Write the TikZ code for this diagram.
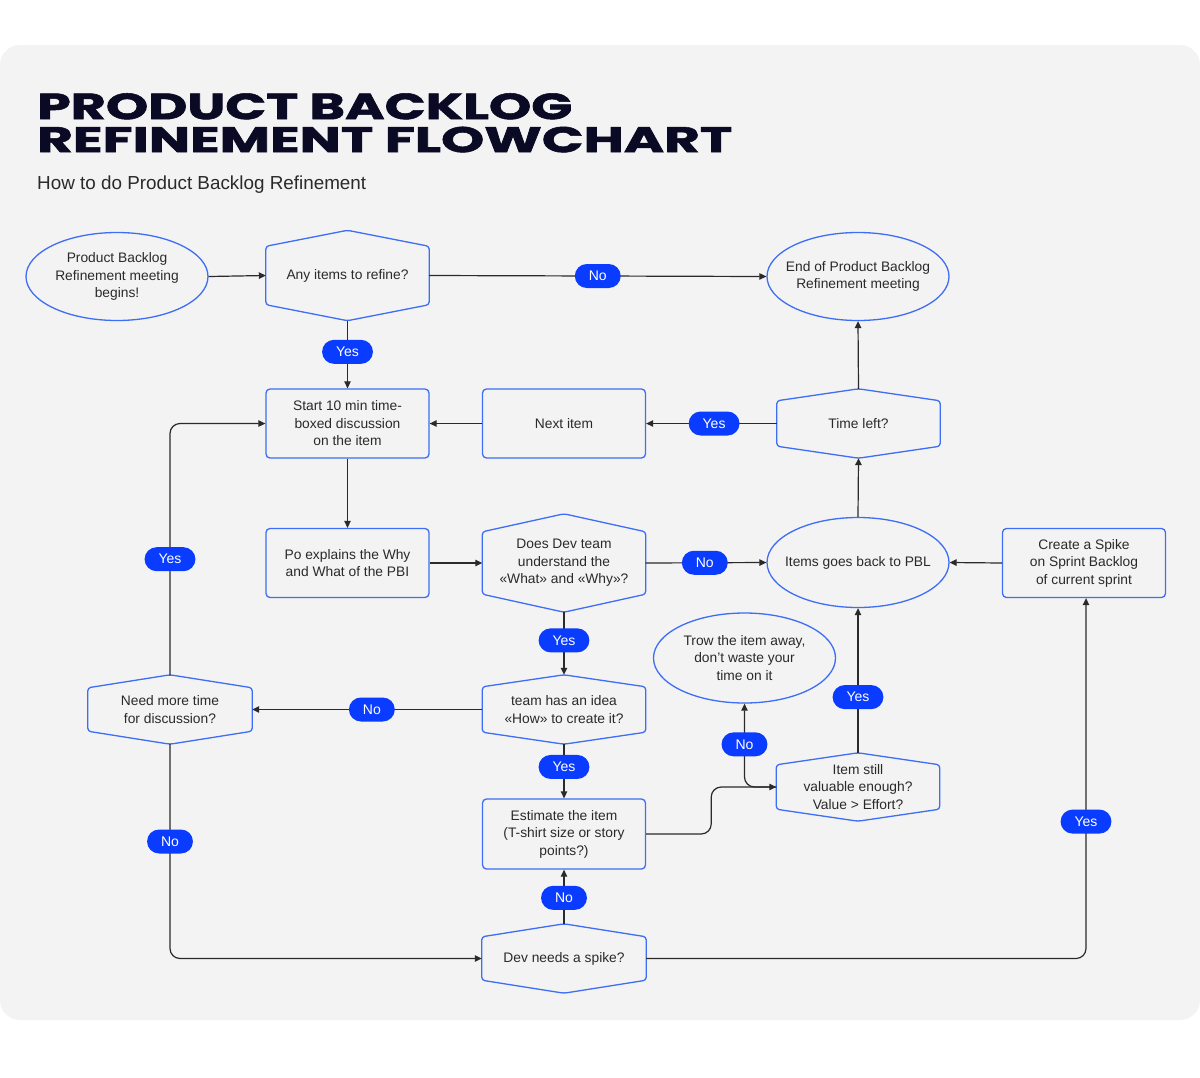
\documentclass[tikz,border=0pt]{standalone}
\usepackage{fontspec}
\usepackage{graphicx}
\setmainfont{Liberation Sans}
\newfontfamily\titlefont{Poppins}[BoldFeatures={FakeBold=1.5}]
\usetikzlibrary{shapes.geometric,arrows.meta,calc}
\definecolor{bg}{HTML}{F3F3F3}
\definecolor{nodeblue}{HTML}{3D6EF5}
\definecolor{pillblue}{HTML}{0A3CFF}
\definecolor{linec}{HTML}{2A2A2A}
\definecolor{txt}{HTML}{2A2A2A}
\definecolor{titlec}{HTML}{0B0A24}
\newcommand\hexnode[6]{%
  \node[hexbase,minimum width=#3,minimum height=#4] (#1) at #2 {#6};
  \draw[nodeline,rounded corners=3pt] (#1.north) -- ($(#1.north east)+(0,#5)$) -- ($(#1.south east)-(0,#5)$) -- (#1.south) -- ($(#1.south west)-(0,#5)$) -- ($(#1.north west)+(0,#5)$) -- cycle;}
\tikzset{
  ntext/.style={text=txt,align=center,font=\fontsize{13.8}{17.5}\selectfont},
  nodeline/.style={draw=nodeblue,line width=1.3pt},
  hexbase/.style={ntext,shape=rectangle,draw=none,inner sep=0pt},
  box/.style={ntext,nodeline,rectangle,rounded corners=4pt,minimum width=163pt,minimum height=69pt,inner sep=0pt},
  ell/.style={ntext,nodeline,ellipse,inner xsep=-14pt,inner ysep=0pt,minimum width=182pt,minimum height=88pt},
  pill/.style={rectangle,rounded corners=12pt,fill=pillblue,text=white,minimum height=24pt,inner xsep=14pt,inner ysep=0pt,font=\fontsize{14}{16}\selectfont,sloped=false},
  arr/.style={draw=linec,line width=1.2pt,-{Triangle[length=7pt,width=6.5pt]},rounded corners=10pt}
}
\begin{document}
\begin{tikzpicture}[x=1pt,y=-1pt]
\useasboundingbox (0,0) rectangle (1200,1077);
\fill[white] (0,0) rectangle (1200,1077);
\fill[bg,rounded corners=20pt] (0,45) rectangle (1200,1020);
% titles
\node[anchor=north west,inner sep=0pt,text=titlec] (t1) at (37,93) {\resizebox{535pt}{26pt}{\titlefont\bfseries PRODUCT BACKLOG}};
\node[anchor=north west,inner sep=0pt,text=titlec] (t2) at (37,126.5) {\resizebox{695pt}{25.5pt}{\titlefont\bfseries REFINEMENT FLOWCHART}};
\node[anchor=north west,inner sep=0pt,text=txt] (sub) at (37,176) {\resizebox{329pt}{!}{\fontsize{18}{20}\selectfont How to do Product Backlog Refinement}};
% nodes
\node[ell] (begin) at (117,276.5) {Product Backlog\\Refinement meeting\\begins!};
\hexnode{any}{(347.5,275.5)}{163pt}{90pt}{16}{Any items to refine?}
\node[ell] (endm) at (858,276.5) {End of Product Backlog\\Refinement meeting};
\node[box] (start) at (347.5,423.5) {Start 10 min time-\\boxed discussion\\on the item};
\node[box] (next) at (564,423.5) {Next item};
\hexnode{time}{(858.5,423.5)}{163pt}{69pt}{12}{Time left?}
\node[box] (po) at (347.5,563) {Po explains the Why\\and What of the PBI};
\hexnode{dev}{(564,563)}{163pt}{98pt}{18}{Does Dev team\\understand the\\«What» and «Why»?}
\node[ell,minimum height=90pt] (pbl) at (858,562.5) {Items goes back to PBL};
\node[box] (spike) at (1084,563) {Create a Spike\\on Sprint Backlog\\of current sprint};
\node[ell,minimum height=90pt] (trow) at (744.5,658) {Trow the item away,\\don’t waste your\\time on it};
\hexnode{need}{(170,709.5)}{164pt}{69pt}{13}{Need more time\\for discussion?}
\hexnode{idea}{(564,709.5)}{163pt}{69pt}{12}{team has an idea\\«How» to create it?}
\hexnode{val}{(858,787)}{163pt}{68pt}{12}{Item still\\valuable enough?\\Value > Effort?}
\node[box,minimum height=70pt] (est) at (564,834) {Estimate the item\\(T-shirt size or story\\points?)};
\hexnode{dspike}{(564,958.5)}{164pt}{69pt}{13}{Dev needs a spike?}
% connectors
\draw[arr] (begin.east) -- (any.west);
\draw[arr] (any.east) -- node[pill] (l1) {No} (endm.west);
\draw[arr] (any.south) -- node[pill,pos=0.46] (l2) {Yes} (start.north);
\draw[arr] (next.west) -- (start.east);
\draw[arr] (time.west) -- node[pill,pos=0.48] (l3) {Yes} (next.east);
\draw[arr] (time.north) -- (endm.south);
\draw[arr] (pbl.north) -- (time.south);
\draw[arr] (start.south) -- (po.north);
\draw[arr] (po.east) -- (dev.west);
\draw[arr] (dev.east) -- node[pill,pos=0.49] (l4) {No} (pbl.west);
\draw[arr] (spike.west) -- (pbl.east);
\draw[arr] (dev.south) -- node[pill,pos=0.45] (l5) {Yes} (idea.north);
\draw[arr] (idea.west) -- node[pill,pos=0.48] (l6) {No} (need.east);
\draw[arr] (idea.south) -- node[pill,pos=0.42] (l7) {Yes} (est.north);
\draw[arr] (need.north) |- node[pill,pos=0.23] (l8) {Yes} (start.west);
\draw[arr] (need.south) |- node[pill,pos=0.227] (l9) {No} (dspike.west);
\draw[arr] (dspike.north) -- node[pill,pos=0.48] (l10) {No} (est.south);
\draw[arr] (dspike.east) -| node[pill,pos=0.69] (l11) {Yes} ([xshift=2pt]spike.south);
\draw[arr] (est.east) -| ($(est.east)!.5!(val.west)$) |- (val.west);
\draw[arr] (val.west) -| node[pill,pos=0.756] (l12) {No} (trow.south);
\draw[arr] (val.north) -- node[pill,pos=0.385] (l13) {Yes} (pbl.south);
\end{tikzpicture}
\end{document}
